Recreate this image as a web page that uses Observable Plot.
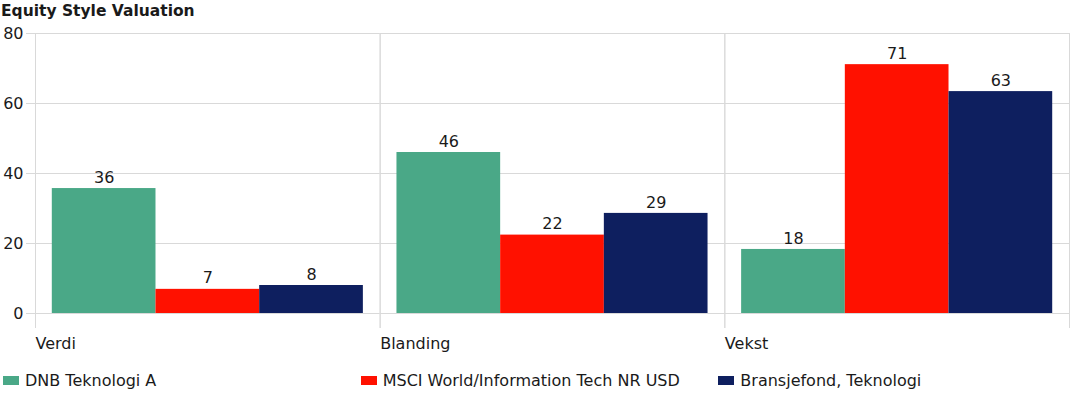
<!DOCTYPE html>
<html>
<head>
<meta charset="utf-8">
<script src="https://cdn.jsdelivr.net/npm/d3@7"></script>
<script src="https://cdn.jsdelivr.net/npm/@observablehq/plot@0.6"></script>
<style>
  html, body { margin: 0; padding: 0; background: #fff; }
  body { width: 1073px; height: 395px; overflow: hidden; font-family: "DejaVu Sans", Verdana, sans-serif; color: #1a1a1a; }
  #title { height: 20px; line-height: 22px; font-weight: bold; font-size: 15.5px; padding-left: 1px; white-space: nowrap; }
  #chart svg { display: block; }
  #legend { display: flex; height: 30px; padding-top: 5px; align-items: center; font-size: 16px; }
  .item { width: 358.5px; display: flex; align-items: center; box-sizing: border-box; padding-left: 3px; }
  .sw { width: 16px; height: 9px; margin-right: 6px; flex: none; }
</style>
</head>
<body>
<div id="title">Equity Style Valuation</div>
<div id="chart"></div>
<div id="legend"></div>
<script>
const categories = ["Verdi", "Blanding", "Vekst"];
const series = ["DNB Teknologi A", "MSCI World/Information Tech NR USD", "Bransjefond, Teknologi"];
const dnbValues = [35.7, 46.0, 18.3];
const msciValues = [6.9, 22.4, 71.1];
const bransjeValues = [8.0, 28.6, 63.4];
const yTicks = [0, 20, 40, 60, 80];
const palette = ["#4aa887", "#ff1100", "#0e1f5f"];

const seriesValues = [dnbValues, msciValues, bransjeValues];
const rows = [];
categories.forEach((c, i) => series.forEach((s, j) => rows.push({category: c, series: s, value: seriesValues[j][i]})));
const fmt = d3.format(".0f");
const grid = "#d9d9d9";

const plot = Plot.plot({
  width: 1073,
  height: 340,
  marginLeft: 35,
  marginRight: 4,
  marginTop: 13,
  marginBottom: 47,
  style: {fontFamily: "DejaVu Sans, Verdana, sans-serif", fontSize: "16px", color: "#1a1a1a", background: "#fff"},
  fx: {domain: categories, padding: 0, round: false, axis: null, label: null},
  x: {domain: series, paddingInner: 0, paddingOuter: 0.162, round: false, axis: null, label: null},
  y: {domain: [0, 80], ticks: yTicks, label: null, axis: null},
  color: {domain: series, range: palette},
  marks: [
    Plot.gridY(yTicks, {stroke: grid, strokeOpacity: 1}),
    Plot.frame({anchor: "left", stroke: grid, strokeOpacity: 1, insetBottom: -14}),
    Plot.frame({anchor: "right", stroke: grid, strokeOpacity: 1, insetBottom: -14}),
    Plot.barY(rows, {fx: "category", x: "series", y: "value", fill: "series"}),
    Plot.text(rows, {fx: "category", x: "series", y: "value", text: d => fmt(d.value), lineAnchor: "middle", dy: -11, fill: "#1a1a1a"}),
    Plot.text(categories, {fx: d => d, text: d => d, frameAnchor: "bottom-left", textAnchor: "start", lineAnchor: "middle", dy: 30, fill: "#1a1a1a"}),
    Plot.axisY(yTicks, {tickSize: 9, tickPadding: 3, stroke: grid, fill: "#1a1a1a", label: null})
  ]
});
document.getElementById("chart").appendChild(plot);

const legend = document.getElementById("legend");
series.forEach((s, i) => {
  const item = document.createElement("div");
  item.className = "item";
  const sw = document.createElement("span");
  sw.className = "sw";
  sw.style.background = palette[i];
  const t = document.createElement("span");
  t.textContent = s;
  item.appendChild(sw);
  item.appendChild(t);
  legend.appendChild(item);
});
</script>
</body>
</html>
